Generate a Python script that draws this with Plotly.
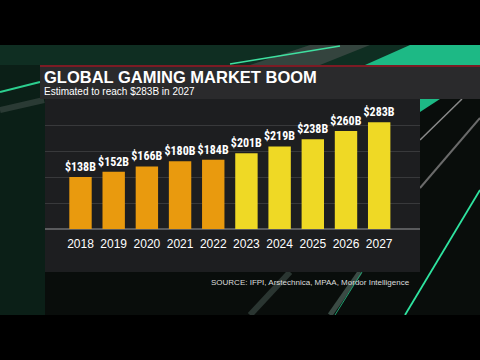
import plotly.graph_objects as go

years = ["2018", "2019", "2020", "2021", "2022", "2023", "2024", "2025", "2026", "2027"]
values = [138, 152, 166, 180, 184, 201, 219, 238, 260, 283]
labels = ["$138B", "$152B", "$166B", "$180B", "$184B", "$201B", "$219B", "$238B", "$260B", "$283B"]
kind = ["actual"] * 5 + ["estimate"] * 5

color_map = {"actual": "#E99A0E", "estimate": "#EFD925"}
colors = [color_map[k] for k in kind]

W, H = 480, 360
def px(x):
    return x / W
def py(y):
    return 1 - y / H

NARROW = "Liberation Sans Narrow, Roboto Condensed, DejaVu Sans Condensed, Roboto"

fig = go.Figure()
fig.add_trace(go.Bar(
    x=years, y=values, text=labels, textposition="outside",
    textfont=dict(family=NARROW, size=12, color="white", weight="bold"),
    constraintext="none",
    marker=dict(color=colors, line=dict(width=0)),
    cliponaxis=False, width=0.675, hoverinfo="skip",
))

shapes = []
# top band (green texture)
shapes.append(dict(type="rect", xref="paper", yref="paper", x0=0, x1=1, y0=py(65), y1=py(45),
                   fillcolor="#0f2e22", line=dict(width=0), layer="below"))
shapes.append(dict(type="path", xref="paper", yref="paper",
                   path=f"M {px(410)} {py(45)} L {px(480)} {py(45)} L {px(480)} {py(65)} L {px(365)} {py(65)} Z",
                   fillcolor="#1db985", line=dict(width=0), layer="below"))
shapes.append(dict(type="path", xref="paper", yref="paper",
                   path=f"M {px(310)} {py(45)} L {px(370)} {py(45)} L {px(320)} {py(65)} L {px(250)} {py(65)} Z",
                   fillcolor="#34443e", line=dict(width=0), layer="below"))
shapes.append(dict(type="line", xref="paper", yref="paper", x0=px(230), y0=py(64), x1=px(340), y1=py(46),
                   line=dict(color="#3fe0a0", width=1.5), layer="below"))
# left side streaks
shapes.append(dict(type="rect", xref="paper", yref="paper", x0=0, x1=px(45), y0=py(315), y1=py(65),
                   fillcolor="#0b1f17", line=dict(width=0), layer="below"))
shapes.append(dict(type="line", xref="paper", yref="paper", x0=0, y0=py(92), x1=px(40), y1=py(82),
                   line=dict(color="#2ccf8f", width=2), layer="below"))
shapes.append(dict(type="line", xref="paper", yref="paper", x0=0, y0=py(110), x1=px(44), y1=py(100),
                   line=dict(color="#2a3a34", width=6), layer="below"))
# right side decorations
shapes.append(dict(type="path", xref="paper", yref="paper",
                   path=f"M {px(420)} {py(99)} L {px(440)} {py(99)} L {px(420)} {py(112)} Z",
                   fillcolor="#1db985", line=dict(width=0), layer="below"))
shapes.append(dict(type="line", xref="paper", yref="paper", x0=px(420), y0=py(140), x1=px(462), y1=py(99),
                   line=dict(color="#8a8a8a", width=1.5), layer="below"))
shapes.append(dict(type="line", xref="paper", yref="paper", x0=px(420), y0=py(188), x1=px(480), y1=py(118),
                   line=dict(color="#6a6a6a", width=2), layer="below"))
shapes.append(dict(type="line", xref="paper", yref="paper", x0=px(405), y0=py(315), x1=px(480), y1=py(190),
                   line=dict(color="#2fe3a0", width=1.8), layer="below"))
# bottom streaks
shapes.append(dict(type="line", xref="paper", yref="paper", x0=px(330), y0=py(315), x1=px(360), y1=py(272),
                   line=dict(color="#3a4a44", width=5), layer="below"))
shapes.append(dict(type="line", xref="paper", yref="paper", x0=px(335), y0=py(315), x1=px(362), y1=py(272),
                   line=dict(color="#20a070", width=1), layer="below"))
shapes.append(dict(type="line", xref="paper", yref="paper", x0=px(250), y0=py(315), x1=px(290), y1=py(272),
                   line=dict(color="#2a3531", width=6), layer="below"))
# header panel
shapes.append(dict(type="rect", xref="paper", yref="paper", x0=px(40), x1=1, y0=py(99), y1=py(65),
                   fillcolor="#2a2a2c", line=dict(width=0), layer="below"))
shapes.append(dict(type="rect", xref="paper", yref="paper", x0=px(40), x1=1, y0=py(67), y1=py(65),
                   fillcolor="#7c1b24", line=dict(width=0), layer="below"))
# chart panel
shapes.append(dict(type="rect", xref="paper", yref="paper", x0=px(45), x1=px(420), y0=py(272), y1=py(99),
                   fillcolor="#1d1e20", line=dict(width=0), layer="below"))

fig.update_layout(
    width=W, height=H,
    margin=dict(l=0, r=0, t=0, b=0),
    paper_bgcolor="#090d0b",
    plot_bgcolor="rgba(0,0,0,0)",
    showlegend=False,
    shapes=shapes,
    xaxis=dict(domain=[px(45), px(420)], type="category", range=[-1.07, 10.23],
               showgrid=False, zeroline=False, showline=False, ticks="",
               tickfont=dict(family="Liberation Sans", size=12, color="white"),
               ticklabelstandoff=6, fixedrange=True),
    yaxis=dict(domain=[py(229), py(99)], range=[0, 345], dtick=69,
               showgrid=True, gridcolor="#38393b", gridwidth=1,
               zeroline=True, zerolinecolor="#5a5b5d", zerolinewidth=1.5,
               showticklabels=False, ticks="", fixedrange=True),
    annotations=[
        dict(text="<b>GLOBAL GAMING MARKET BOOM</b>", xref="paper", yref="paper",
             x=px(42), y=py(77), xanchor="left", yanchor="middle", showarrow=False,
             font=dict(family="Liberation Sans", size=16.5, color="white")),
        dict(text="Estimated to reach $283B in 2027", xref="paper", yref="paper",
             x=px(42), y=py(91), xanchor="left", yanchor="middle", showarrow=False,
             font=dict(family="Liberation Sans", size=10, color="white")),
        dict(text="SOURCE: IFPI, Arstechnica, MPAA, Mordor Intelligence", xref="paper", yref="paper",
             x=px(412), y=py(282), xanchor="right", yanchor="middle", showarrow=False,
             font=dict(family="Liberation Sans", size=8, color="#dddddd")),
    ],
)
# letterbox bars
fig.add_shape(type="rect", xref="paper", yref="paper", x0=0, x1=1, y0=py(45), y1=1,
              fillcolor="black", line=dict(width=0), layer="above")
fig.add_shape(type="rect", xref="paper", yref="paper", x0=0, x1=1, y0=0, y1=py(315),
              fillcolor="black", line=dict(width=0), layer="above")

fig.write_html("out.html", config={"displayModeBar": False},
               post_script="document.body.style.margin='0';document.body.style.overflow='hidden';")
